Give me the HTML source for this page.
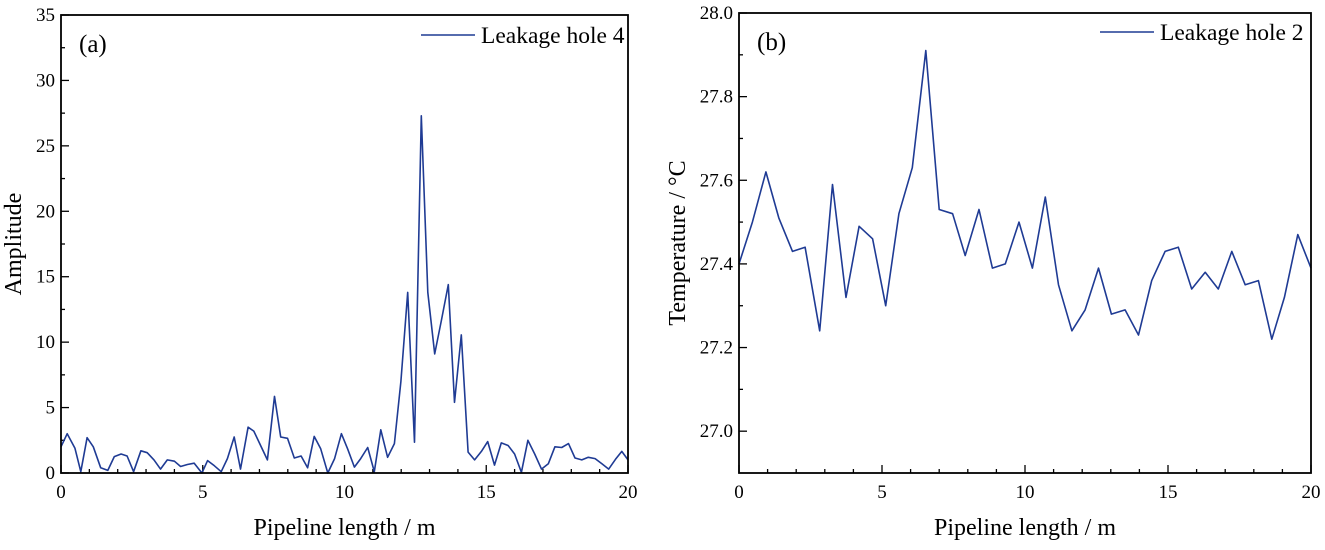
<!DOCTYPE html>
<html><head><meta charset="utf-8"><style>
body{margin:0;background:#fff}
svg text{font-family:"Liberation Serif",serif;fill:#000}
</style></head><body>
<svg id="s" width="1325" height="545" xmlns="http://www.w3.org/2000/svg"></svg>
<script>
const xsA=[0,0.22,0.49,0.7,0.92,1.14,1.4,1.65,1.88,2.12,2.33,2.56,2.82,3.04,3.28,3.51,3.75,4.0,4.22,4.46,4.7,4.97,5.17,5.41,5.65,5.87,6.11,6.33,6.6,6.8,7.04,7.28,7.53,7.75,7.99,8.23,8.47,8.7,8.93,9.16,9.41,9.65,9.89,10.11,10.35,10.57,10.82,11.05,11.28,11.52,11.76,11.99,12.23,12.47,12.71,12.94,13.18,13.42,13.66,13.88,14.12,14.36,14.59,14.83,15.05,15.29,15.53,15.77,16.0,16.24,16.47,16.71,16.95,17.19,17.42,17.66,17.9,18.13,18.37,18.6,18.84,19.08,19.32,19.56,19.78,20];
const ysA=[2.0,3.0,1.9,0.1,2.7,2.0,0.4,0.2,1.25,1.45,1.3,0.1,1.7,1.55,1.0,0.3,1.0,0.9,0.5,0.65,0.75,0,0.95,0.55,0.1,1.1,2.75,0.3,3.5,3.2,2.1,1.0,5.85,2.75,2.65,1.15,1.3,0.4,2.8,1.85,0,1.1,3.0,1.85,0.45,1.1,1.95,0.1,3.3,1.2,2.25,7.0,13.8,2.35,27.3,13.8,9.1,11.7,14.4,5.4,10.55,1.6,1.0,1.65,2.4,0.6,2.3,2.1,1.45,0.05,2.5,1.45,0.3,0.7,2.0,1.95,2.25,1.15,1.0,1.2,1.1,0.7,0.3,1.05,1.65,1.0];
const xsB=[0,0.47,0.94,1.39,1.87,2.31,2.82,3.27,3.74,4.2,4.67,5.13,5.59,6.06,6.53,7.0,7.47,7.91,8.39,8.86,9.31,9.79,10.26,10.71,11.17,11.64,12.1,12.57,13.02,13.5,13.97,14.43,14.9,15.36,15.83,16.3,16.76,17.23,17.7,18.16,18.63,19.07,19.54,20];
const ysB=[27.40,27.50,27.62,27.51,27.43,27.44,27.24,27.59,27.32,27.49,27.46,27.30,27.52,27.63,27.91,27.53,27.52,27.42,27.53,27.39,27.40,27.50,27.39,27.56,27.35,27.24,27.29,27.39,27.28,27.29,27.23,27.36,27.43,27.44,27.34,27.38,27.34,27.43,27.35,27.36,27.22,27.32,27.47,27.39];
const xTicks=[0,5,10,15,20];
const yTicksA=[0,5,10,15,20,25,30,35];
const yTicksB=[27.0,27.2,27.4,27.6,27.8,28.0];
const S=document.getElementById('s');
const NS='http://www.w3.org/2000/svg';
function mk(t,a,txt){const e=document.createElementNS(NS,t);for(const k in a)e.setAttribute(k,a[k]);if(txt!==undefined)e.textContent=txt;S.appendChild(e);return e;}
function panel(p){
 const sx=v=>p.x0+(v-p.xmin)/(p.xmax-p.xmin)*(p.x1-p.x0);
 const sy=v=>p.y1-(v-p.ymin)/(p.ymax-p.ymin)*(p.y1-p.y0);
 let e;
 for(let v=p.xmin;v<=p.xmax+1e-9;v+=1){const big=v%5===0;e=mk('line',{x1:sx(v),x2:sx(v),y1:p.y1,y2:p.y1-(big?8:4),stroke:'#000','stroke-width':1.3});
  }
 xTicks.forEach(v=>{e=mk('text',{x:sx(v),y:p.y1+25,'text-anchor':'middle','font-size':19},String(v));
  });
 const yt=p.yt;
 for(let i=0;i<yt.length;i++){const v=yt[i];e=mk('line',{x1:p.x0,x2:p.x0+8,y1:sy(v),y2:sy(v),stroke:'#000','stroke-width':1.3});
  
  const step=yt.length>1?yt[1]-yt[0]:1;
  [v-step/2,v+step/2].forEach(m=>{if(m>p.ymin&&m<p.ymax&&(i===0||m>v)){e=mk('line',{x1:p.x0,x2:p.x0+4,y1:sy(m),y2:sy(m),stroke:'#000','stroke-width':1.3});
   }});
  e=mk('text',{x:p.x0-6,y:sy(v)+6,'text-anchor':'end','font-size':19},p.fmt(v));
  }
 let d='';p.xs.forEach((x,i)=>{d+=(i?'L':'M')+sx(x).toFixed(1)+','+sy(p.ys[i]).toFixed(1);});
 e=mk('path',{d:d,fill:'none',stroke:'#1f3b94','stroke-width':1.6,'stroke-linejoin':'round'});
 
 e=mk('rect',{x:p.x0,y:p.y0,width:p.x1-p.x0,height:p.y1-p.y0,fill:'none',stroke:'#000','stroke-width':1.8});
 
 e=mk('line',{x1:p.lx,x2:p.lx+54,y1:p.ly,y2:p.ly,stroke:'#1f3b94','stroke-width':1.6});
 
 e=mk('text',{x:p.lx+60,y:p.ly+8,'font-size':23.5},p.leg);
 
 e=mk('text',{x:p.x0+18,y:p.y0+37,'font-size':25},p.tag);
 
 e=mk('text',{x:(p.x0+p.x1)/2,y:535,'text-anchor':'middle','font-size':24},'Pipeline length / m');
 
 const cy=(p.y0+p.y1)/2;
 e=mk('text',{x:p.tx,y:cy,'text-anchor':'middle','font-size':24,transform:'rotate(-90 '+p.tx+' '+cy+')'},p.ytitle);
 
}
panel({id:'a',x0:61,x1:628,y0:15,y1:473,xmin:0,xmax:20,ymin:0,ymax:35,yt:yTicksA,fmt:v=>String(v),xs:xsA,ys:ysA,lx:421,ly:35,leg:'Leakage hole 4',tag:'(a)',tx:21,ytitle:'Amplitude'});
panel({id:'b',x0:739,x1:1311,y0:13,y1:473,xmin:0,xmax:20,ymin:26.9,ymax:28.0,yt:yTicksB,fmt:v=>v.toFixed(1),xs:xsB,ys:ysB,lx:1100,ly:32,leg:'Leakage hole 2',tag:'(b)',tx:685,ytitle:'Temperature / °C'});
</script>
</body></html>
